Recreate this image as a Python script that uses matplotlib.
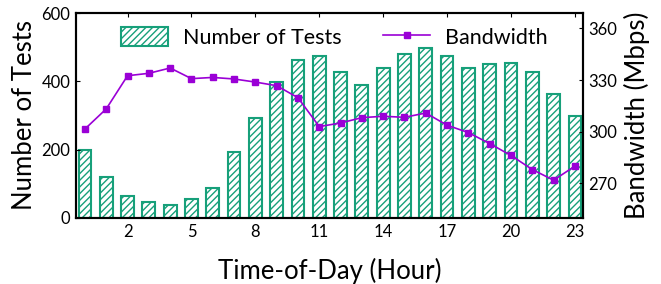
import matplotlib
matplotlib.use("Agg")
import matplotlib.pyplot as plt
import numpy as np

plt.rcParams['font.family'] = ['Lato', 'DejaVu Sans']
plt.rcParams['hatch.linewidth'] = 1.0

hours = list(range(24))
num_tests = [198, 119, 63, 47, 39, 57, 88, 193, 292, 397, 463, 475,
             426, 390, 438, 481, 499, 474, 440, 451, 453, 426, 364, 298]
bandwidth = [301.5, 313.2, 332.5, 333.9, 337.0, 330.8, 331.5, 330.6, 328.8, 326.7, 319.7, 302.9,
             305.0, 308.1, 308.9, 308.3, 310.8, 303.7, 299.4, 293.0, 286.1, 277.9, 271.7, 279.9]
xticks = [2, 5, 8, 11, 14, 17, 20, 23]
left_ticks = [0, 200, 400, 600]
right_ticks = [270, 300, 330, 360]

green = '#17a07a'
purple = '#9a00d6'

fig = plt.figure(figsize=(6.61, 2.84), dpi=100)
ax = fig.add_axes([76/661, 1 - 218/284, (583 - 76)/661, (218 - 13)/284])
ax2 = ax.twinx()

bars = ax.bar(hours, num_tests, width=0.6, facecolor='white', edgecolor=green,
              hatch='/////', linewidth=1.5, label='Number of Tests')
ax.set_xlim(-0.42, 23.38)
ax.set_ylim(0, 600)
ax.set_yticks(left_ticks)
ax.set_xticks(xticks)
ax.tick_params(axis='both', direction='in', length=3, labelsize=12, top=True, bottom=False, pad=4)
ax.set_xlabel('Time-of-Day (Hour)', fontsize=18.5, labelpad=13)
ax.set_ylabel('Number of Tests', fontsize=18.5, labelpad=3)

line, = ax2.plot(hours, bandwidth, color=purple, marker='s', markersize=5, linewidth=1.2,
                 label='Bandwidth')
ax2.set_ylim(249.7, 369)
ax2.set_yticks(right_ticks)
ax2.tick_params(axis='y', direction='in', length=3, labelsize=12, pad=4)
ax2.set_ylabel('Bandwidth (Mbps)', fontsize=18.5, labelpad=5)

for a in (ax, ax2):
    for s in a.spines.values():
        s.set_linewidth(1.5)

ax.set_zorder(ax2.get_zorder() - 1)
ax2.patch.set_visible(False)

ax2.legend([bars, line], ['Number of Tests', 'Bandwidth'], ncol=2, frameon=False,
           loc='upper center', bbox_to_anchor=(0.51, 1.0), fontsize=15.5,
           handlelength=2.2, handleheight=1.0, columnspacing=1.9, handletextpad=0.7,
           borderaxespad=0.25)

fig.savefig('out.png', dpi=100)
